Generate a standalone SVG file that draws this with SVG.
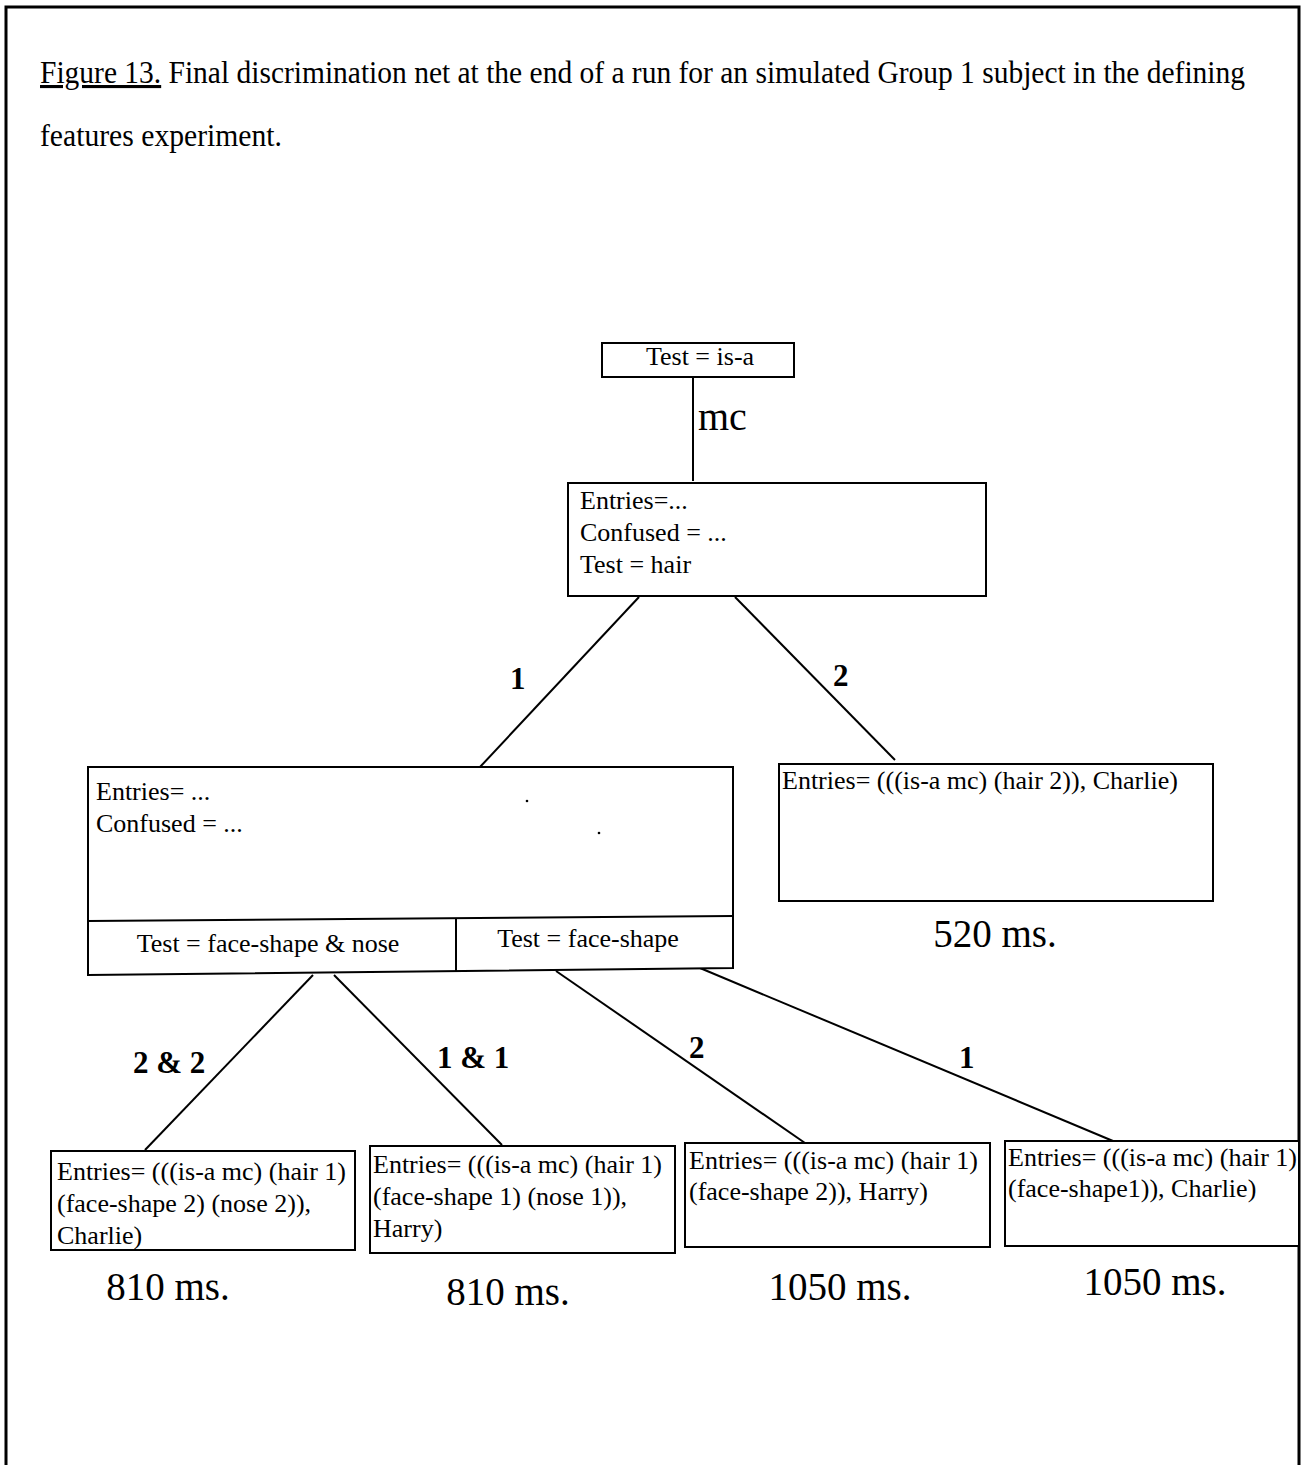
<svg xmlns="http://www.w3.org/2000/svg" width="1303" height="1465" viewBox="0 0 1303 1465">
  <style>
    text { font-family: "Liberation Serif", "Times New Roman", serif; fill: #000; }
    .t { font-size: 26px; }
    .title { font-size: 31px; }
    .lbl { font-size: 31px; font-weight: bold; }
    .ms { font-size: 39px; }
    .box { fill: #fff; stroke: #000; stroke-width: 2; }
    .edge { stroke: #000; stroke-width: 2; fill: none; }
  </style>
  <rect width="1303" height="1465" fill="#fff"/>
  <!-- page frame (open at the bottom) -->
  <path d="M6,1465 V7 H1299 V1465" fill="none" stroke="#000" stroke-width="3"/>

  <!-- caption -->
  <text class="title" x="40" y="83" textLength="1205" lengthAdjust="spacingAndGlyphs"><tspan text-decoration="underline">Figure 13.</tspan> Final discrimination net at the end of a run for an simulated Group 1 subject in the defining</text>
  <text class="title" x="40" y="146" textLength="242" lengthAdjust="spacingAndGlyphs">features experiment.</text>

  <!-- connectors -->
  <g id="connectors">
    <line class="edge" x1="693" y1="377" x2="693" y2="481"/>
    <text x="698" y="430" style="font-size:40px">mc</text>
    <line class="edge" x1="639" y1="597" x2="480" y2="767"/>
    <text class="lbl" x="510" y="689">1</text>
    <line class="edge" x1="735" y1="597" x2="895" y2="760"/>
    <text class="lbl" x="833" y="686">2</text>
    <line class="edge" x1="313" y1="975" x2="145" y2="1150"/>
    <text class="lbl" x="133" y="1073">2 &amp; 2</text>
    <line class="edge" x1="334" y1="975" x2="502" y2="1145"/>
    <text class="lbl" x="437" y="1068">1 &amp; 1</text>
    <line class="edge" x1="556" y1="971" x2="805" y2="1143"/>
    <text class="lbl" x="689" y="1058">2</text>
    <line class="edge" x1="700" y1="968" x2="1113" y2="1141"/>
    <text class="lbl" x="959" y="1068">1</text>
  </g>

  <!-- root test -->
  <g id="node-root">
    <rect class="box" x="602" y="343" width="192" height="34"/>
    <text class="t" x="700" y="365" text-anchor="middle">Test = is-a</text>
  </g>

  <!-- hair test node -->
  <g id="node-hair">
    <rect class="box" x="568" y="483" width="418" height="113"/>
    <text class="t" x="580" y="509">Entries=...</text>
    <text class="t" x="580" y="541">Confused = ...</text>
    <text class="t" x="580" y="573">Test = hair</text>
  </g>

  <!-- face-shape node: body plus two test cells -->
  <g id="node-face">
    <polygon class="box" points="88,767 733,767 733,968 88,975"/>
    <line class="edge" x1="88" y1="921" x2="733" y2="916"/>
    <line class="edge" x1="456" y1="919" x2="456" y2="971"/>
    <text class="t" x="96" y="800">Entries= ...</text>
    <text class="t" x="96" y="832">Confused = ...</text>
    <circle cx="527" cy="801" r="1.3" fill="#000"/>
    <circle cx="599" cy="833" r="1.3" fill="#000"/>
    <text class="t" x="268" y="952" text-anchor="middle">Test = face-shape &amp; nose</text>
    <text class="t" x="588" y="947" text-anchor="middle">Test = face-shape</text>
  </g>

  <!-- hair 2 leaf -->
  <g id="node-leaf-hair2">
    <rect class="box" x="779" y="764" width="434" height="137"/>
    <text class="t" x="782" y="789">Entries= (((is-a mc) (hair 2)), Charlie)</text>
    <text class="ms" x="995" y="947" text-anchor="middle">520 ms.</text>
  </g>

  <!-- bottom leaves -->
  <g id="node-leaf-1">
    <rect class="box" x="51" y="1151" width="304" height="99"/>
    <text class="t" x="57" y="1180">Entries= (((is-a mc) (hair 1)</text>
    <text class="t" x="57" y="1212">(face-shape 2) (nose 2)),</text>
    <text class="t" x="57" y="1244">Charlie)</text>
    <text class="ms" x="168" y="1300" text-anchor="middle">810 ms.</text>
  </g>

  <g id="node-leaf-2">
    <rect class="box" x="370" y="1146" width="305" height="107"/>
    <text class="t" x="373" y="1173">Entries= (((is-a mc) (hair 1)</text>
    <text class="t" x="373" y="1205">(face-shape 1) (nose 1)),</text>
    <text class="t" x="373" y="1237">Harry)</text>
    <text class="ms" x="508" y="1305" text-anchor="middle">810 ms.</text>
  </g>

  <g id="node-leaf-3">
    <rect class="box" x="685" y="1143" width="305" height="104"/>
    <text class="t" x="689" y="1169">Entries= (((is-a mc) (hair 1)</text>
    <text class="t" x="689" y="1200">(face-shape 2)), Harry)</text>
    <text class="ms" x="840" y="1300" text-anchor="middle">1050 ms.</text>
  </g>

  <g id="node-leaf-4">
    <rect class="box" x="1005" y="1141" width="294" height="105"/>
    <text class="t" x="1008" y="1166">Entries= (((is-a mc) (hair 1)</text>
    <text class="t" x="1008" y="1197">(face-shape1)), Charlie)</text>
    <text class="ms" x="1155" y="1295" text-anchor="middle">1050 ms.</text>
  </g>
</svg>
